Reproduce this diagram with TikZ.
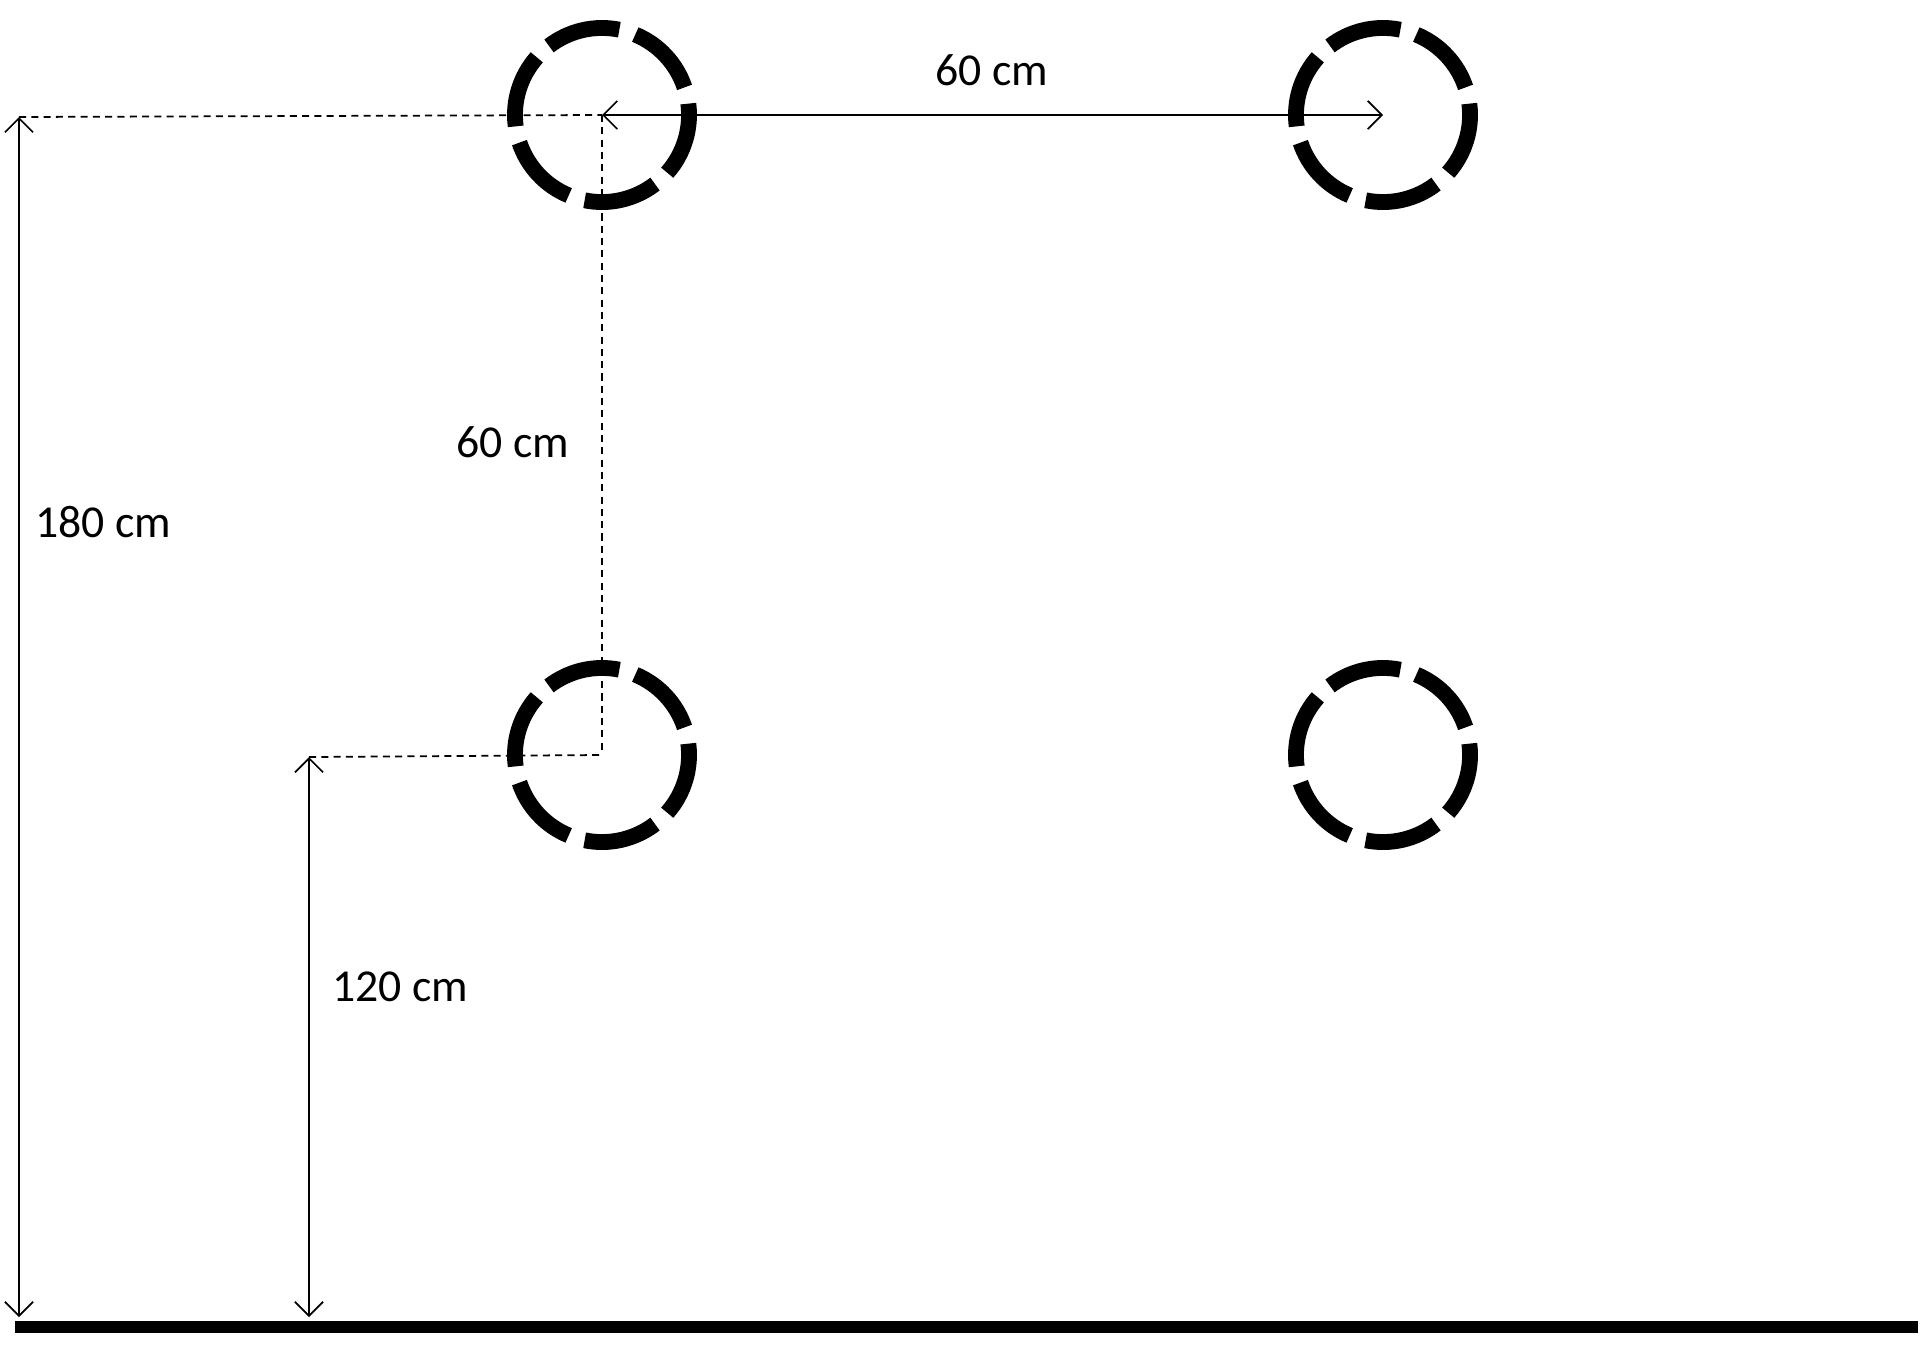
\documentclass[tikz,border=0pt]{standalone}
\usepackage{fontspec}
\setmainfont{Carlito}
\usetikzlibrary{calc,arrows.meta}
\begin{document}
\begin{tikzpicture}[x=0.01cm,y=-0.01cm,
  ring/.style={line width=4.5pt},
  dim/.style={line width=0.5pt,{Straight Barb[length=4pt]}-{Straight Barb[length=4pt]}},
  guide/.style={line width=0.5pt,dash pattern=on 2pt off 1.5pt},
  lbl/.style={font=\fontsize{13}{15}\selectfont}]
\useasboundingbox (0,0) rectangle (1930,1351);
\foreach \n/\cx/\cy in {a/602/115,b/1383/115,c/602/755,d/1383/755}{
  \coordinate (\n) at (\cx,\cy);
  \foreach \k in {0,...,5}{
    \draw[ring] ($(\n)+({13+60*\k+5.5}:0.87cm)$) arc[start angle={13+60*\k+5.5},end angle={13+60*\k+54.5},radius=0.87cm];
  }
}
\coordinate (g1) at (15,1327); \coordinate (g2) at (1918,1327);
\draw[line width=3.6pt] (g1) -- (g2);
\coordinate (t1) at (19,117); \coordinate (b1) at (19,1317);
\coordinate (t2) at (309,757); \coordinate (b2) at (309,1317);
\draw[guide] (t1) -- (a);
\draw[guide] (a) -- (c);
\draw[guide] (t2) -- (c);
\draw[dim] (t1) -- (b1);
\draw[dim] (t2) -- (b2);
\draw[dim] (a) -- (b);
\node[lbl] (l1) at (992,70) {60 cm};
\node[lbl] (l2) at (513,442) {60 cm};
\node[lbl] (l3) at (103,522) {180 cm};
\node[lbl] (l4) at (400,987) {120 cm};
\end{tikzpicture}
\end{document}
